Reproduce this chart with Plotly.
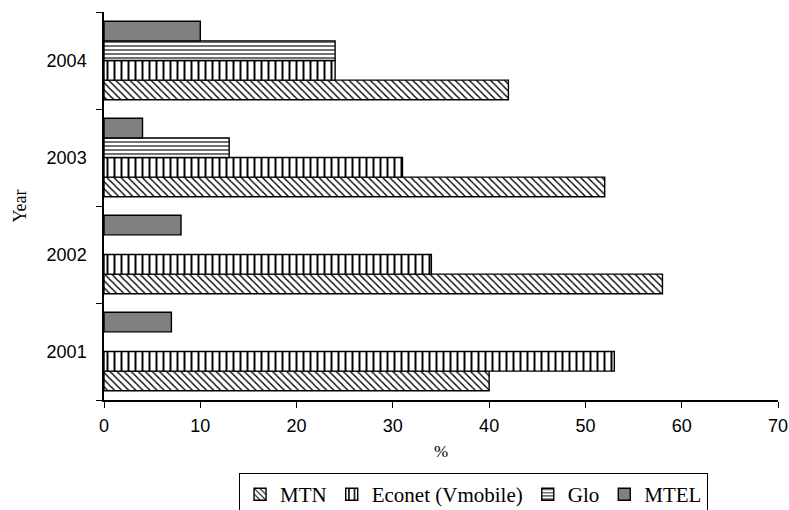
import plotly.graph_objects as go

years = ["2001", "2002", "2003", "2004"]
mtn = [40, 58, 52, 42]
econet = [53, 34, 31, 24]
glo = [None, None, 13, 24]
mtel = [7, 8, 4, 10]
x_ticks = [0, 10, 20, 30, 40, 50, 60, 70]

series = [
    ("MTN", mtn, "\\", 5),
    ("Econet (Vmobile)", econet, "|", 7),
    ("Glo", glo, "-", 4),
    ("MTEL", mtel, "", 6),
]

fig = go.Figure()
for name, vals, shape, size in series:
    if shape:
        marker = dict(color="white",
                      pattern=dict(shape=shape, fgcolor="black", bgcolor="white",
                                   size=size, solidity=0.28, fillmode="replace"),
                      line=dict(color="black", width=1.4))
    else:
        marker = dict(color="#808080", line=dict(color="black", width=1.4))
    fig.add_trace(go.Bar(y=years, x=vals, name=name, orientation="h", marker=marker))

fig.update_layout(
    width=789, height=510,
    margin=dict(l=104, r=11, t=12, b=110, autoexpand=False),
    paper_bgcolor="white", plot_bgcolor="white",
    barmode="group", bargap=0.19, bargroupgap=0,
    font=dict(family="Liberation Sans, Arial", size=18, color="black"),
    xaxis=dict(range=[0, 70], tickvals=x_ticks, ticks="outside", ticklen=6,
               tickcolor="black", showline=True, linecolor="black", linewidth=1.5,
               showgrid=False, zeroline=False, automargin=False, ticklabelstandoff=3,
               title=dict(text="%", font=dict(family="Liberation Serif", size=17), standoff=10)),
    yaxis=dict(type="category", ticks="outside", tickson="boundaries", ticklen=6,
               tickcolor="black", showline=True, linecolor="black", linewidth=1.5,
               showgrid=False, zeroline=False, ticklabelstandoff=12, automargin=False,
               title=dict(text="Year", font=dict(family="Liberation Serif", size=18), standoff=15)),
    legend=dict(orientation="h", x=0.548, xanchor="center", y=-0.188, yanchor="top",
                bordercolor="black", borderwidth=1.2,
                font=dict(family="Liberation Serif", size=21), itemwidth=30,
                traceorder="normal"),
    showlegend=True,
)

fig.write_html("out.html")
